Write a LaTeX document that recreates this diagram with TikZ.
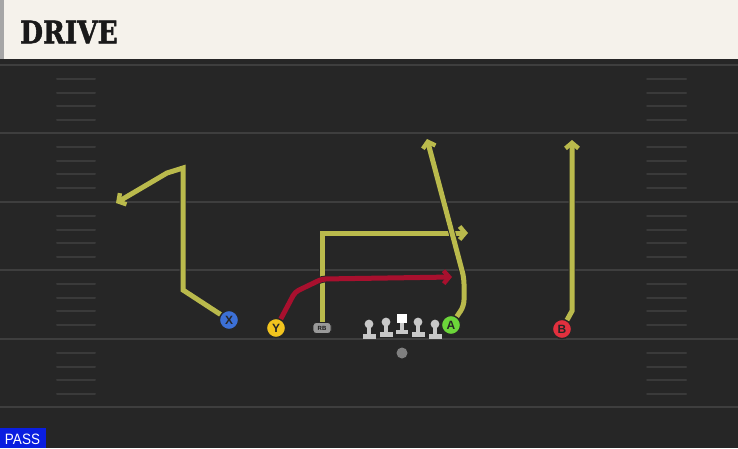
\documentclass[tikz,border=0pt]{standalone}
\usepackage{fontspec}
\setsansfont{Liberation Sans}
\newfontfamily\titlefont{DejaVu Serif}[BoldFeatures={FakeBold=1.5}]
\usetikzlibrary{arrows.meta}
\definecolor{field}{HTML}{262626}
\definecolor{yardc}{HTML}{3E3E3E}
\definecolor{hashc}{HTML}{3A3A3A}
\definecolor{cream}{HTML}{F5F2EB}
\definecolor{olive}{HTML}{BABA4C}
\definecolor{crimson}{HTML}{A8102E}
\definecolor{xblue}{HTML}{3C70D6}
\definecolor{yyellow}{HTML}{F2C41E}
\definecolor{agreen}{HTML}{6CD63A}
\definecolor{bred}{HTML}{E2303E}
\definecolor{linec}{HTML}{C8C8C8}
\definecolor{passblue}{HTML}{0A1EE0}
\tikzset{
  player/.style={circle,draw=black!85,line width=1.2pt,minimum size=19pt,inner sep=0pt,font=\sffamily\bfseries\fontsize{12}{12}\selectfont,text=black!85},
  rbbox/.style={draw=black!85,line width=0.9pt,fill=black!40,rounded corners=3pt,minimum width=18pt,minimum height=11pt,inner sep=0pt,font=\sffamily\bfseries\fontsize{6}{6}\selectfont,text=black!90},
  route/.style={line width=5pt,line join=miter,-{Straight Barb[length=5.5pt,width=13pt,line width=4.4pt]},preaction={draw=black!85,line width=6.8pt}},
  yardline/.style={yardc,line width=2.4pt},
  hashline/.style={hashc,line width=2pt,line cap=round},
}
\begin{document}
\begin{tikzpicture}[x=1pt,y=-1pt]
\useasboundingbox (0,0) rectangle (738,448);
\fill[field] (0,0) rectangle (738,448);
% header
\fill[cream] (0,0) rectangle (738,59);
\fill[black!35] (0,0) rectangle (3.5,59);
\fill[black!85] (0,59) rectangle (738,64);
\node[anchor=west,inner sep=0pt,xscale=0.85,font=\titlefont\bfseries\fontsize{31}{31}\selectfont,text=black!90] (title) at (20,32) {DRIVE};
% yard lines
\foreach \y in {65,133,202,270,339,407} \draw[yardline] (0,\y) -- (738,\y);
% hash marks
\foreach \y in {65,133,202,270,339} {
  \foreach \k in {1,2,3,4} {
    \draw[hashline] (57,{\y+13.8*\k}) -- (95,{\y+13.8*\k});
    \draw[hashline] (647,{\y+13.8*\k}) -- (686,{\y+13.8*\k});
  }
}
% linemen
\foreach \x/\h in {369/324,386/322,418/322,435/324} {
  \fill[linec] (\x,\h) circle (4.4);
  \fill[linec] (\x-2.3,\h) rectangle (\x+2.3,\h+10);
  \fill[linec] (\x-6.5,\h+9.5) rectangle (\x+6.5,\h+14.5);
}
\fill[white] (396.5,313.5) rectangle (407,323);
\fill[linec] (399.5,323) rectangle (404,330);
\fill[linec] (395.5,329.5) rectangle (408,334);
% QB
\fill[black!50] (402,353) circle (5.5);
% players
\node[player,fill=xblue] (X) at (229,320) {X};
\node[player,fill=yyellow] (Y) at (276,328) {Y};
\node[player,fill=agreen] (A) at (451,325) {A};
\node[player,fill=bred] (B) at (562,329) {B};
\node[rbbox] (RB) at (322,328) {RB};
% route points
\coordinate (x1) at (183,290); \coordinate (x2) at (183,168); \coordinate (x3) at (167,173); \coordinate (xe) at (116,203);
\coordinate (y1) at (295,292); \coordinate (y2) at (322,279); \coordinate (ye) at (452,277);
\coordinate (r1) at (322,233); \coordinate (re) at (468,233);
\coordinate (a1) at (464,306); \coordinate (a2) at (464,278); \coordinate (ae) at (427,139);
\coordinate (b1) at (572,311); \coordinate (be) at (572,140);
% routes
\draw[route,olive] (X) -- (x1) -- (x2) -- (x3) -- (xe);
\draw[route,olive] (RB.north) -- (r1) -- (re);
\draw[route,crimson,rounded corners=4pt] (Y) -- (y1) -- (y2) -- (ye);
\draw[route,olive,rounded corners=6pt] (A) -- (a1) -- (a2) -- (ae);
\draw[route,olive] (B) -- (b1) -- (be);
% redraw players on top
\node[player,fill=xblue] at (X) {X};
\node[player,fill=yyellow] at (Y) {Y};
\node[player,fill=agreen] at (A) {A};
\node[player,fill=bred] at (B) {B};
\node[rbbox] at (RB) {RB};
% PASS
\fill[passblue] (0,428) rectangle (46,448);
\node[anchor=center,inner sep=0pt,text=white,font=\sffamily\fontsize{15}{15}\selectfont,xscale=0.9] (pass) at (22.5,439) {PASS};
\end{tikzpicture}
\end{document}
